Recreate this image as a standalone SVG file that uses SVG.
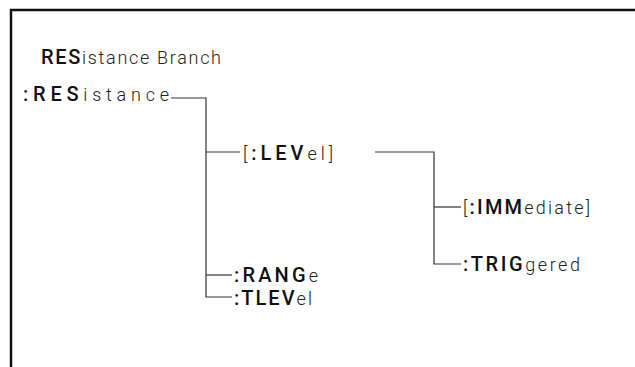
<svg xmlns="http://www.w3.org/2000/svg" width="635" height="367" viewBox="0 0 635 367">
<style>
text{font-family:Roboto,"Liberation Sans",Arial,sans-serif;fill:#111}
.u{font-size:20px;font-weight:500}
.l{font-size:18px;font-weight:300;fill:#222}
.c{fill:none;stroke:#333;stroke-width:1.2}
.frame{fill:none;stroke:#111;stroke-width:2.5}
</style>
<rect width="635" height="367" fill="#fff"/>
<path class="frame" d="M11,367 V10 H635"/>
<g id="title"><text x="41" y="64" textLength="180" lengthAdjust="spacing"><tspan class="u">RES</tspan><tspan class="l">istance Branch</tspan></text></g>
<g id="resistance"><text x="23" y="101" textLength="146" lengthAdjust="spacing"><tspan class="u">:RES</tspan><tspan class="l">istance</tspan></text></g>
<g id="level"><text x="243" y="160" textLength="90" lengthAdjust="spacing"><tspan class="l">[</tspan><tspan class="u">:LEV</tspan><tspan class="l">el]</tspan></text></g>
<g id="immediate"><text x="463" y="214" textLength="127" lengthAdjust="spacing"><tspan class="l">[</tspan><tspan class="u">:IMM</tspan><tspan class="l">ediate]</tspan></text></g>
<g id="triggered"><text x="463" y="271" textLength="117" lengthAdjust="spacing"><tspan class="u">:TRIG</tspan><tspan class="l">gered</tspan></text></g>
<g id="range"><text x="234" y="282" textLength="84" lengthAdjust="spacing"><tspan class="u">:RANG</tspan><tspan class="l">e</tspan></text></g>
<g id="tlevel"><text x="234" y="305" textLength="78" lengthAdjust="spacing"><tspan class="u">:TLEV</tspan><tspan class="l">el</tspan></text></g>
<g id="connectors">
<path class="c" d="M171,98 H206 V297 H232"/>
<path class="c" d="M206,152 H240"/>
<path class="c" d="M206,275 H232"/>
<path class="c" d="M375,152 H434 V264 H461"/>
<path class="c" d="M434,207 H461"/>
</g>
</svg>
